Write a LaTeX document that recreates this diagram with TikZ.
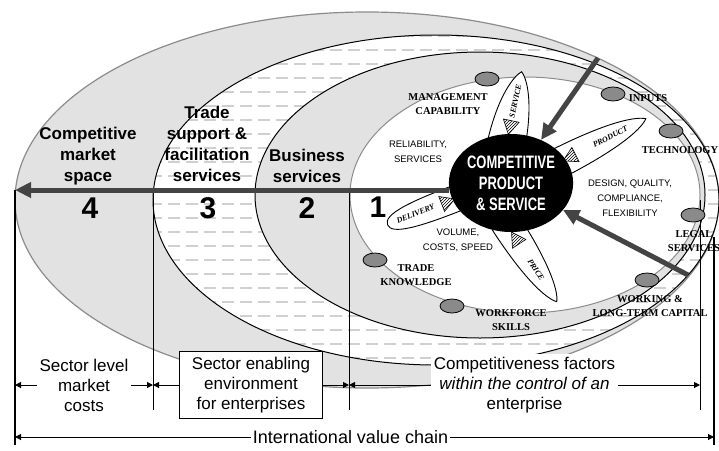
\documentclass[tikz,border=0pt]{standalone}
\usepackage{fontspec}
\setmainfont{Liberation Sans}
\newfontfamily\tagfont{Liberation Serif}
\newfontfamily\narrowfont[FakeStretch=0.72]{Liberation Sans}
\usetikzlibrary{arrows.meta, shapes.geometric, patterns}
\definecolor{ringGray}{HTML}{E2E2E2}
\definecolor{rimGray}{HTML}{8C8C8C}
\definecolor{arrowGray}{HTML}{444444}
\definecolor{dashGray}{HTML}{D0D0D0}
\definecolor{blobGray}{HTML}{8A8A8A}

\begin{document}
\begin{tikzpicture}[x=1pt, y=-1pt,
  region/.style={font=\bfseries\fontsize{17}{21}\selectfont, align=center},
  ringno/.style={font=\bfseries\fontsize{30}{30}\selectfont},
  tag/.style={font=\tagfont\bfseries\fontsize{10.5}{14}\selectfont, align=center, inner sep=1pt},
  factor/.style={font=\fontsize{9.5}{15}\selectfont, align=center, inner sep=1pt},
  blob/.style={ellipse, draw, fill=blobGray, line width=0.8pt, minimum width=24pt, minimum height=14pt, inner sep=0pt},
  petal/.style={draw, fill=white, line width=0.9pt},
  petaltext/.style={font=\tagfont\bfseries\itshape\fontsize{8}{8}\selectfont, transform shape, inner sep=0pt},
  hatch/.style={draw, line width=0.6pt, preaction={fill=white}, pattern=north east lines},
  core/.style={ellipse, fill=black, text=white, minimum width=116pt, minimum height=98pt, inner sep=0pt,
               align=center, font=\narrowfont\bfseries\fontsize{18}{21}\selectfont},
  bigarrow/.style={draw=arrowGray, line width=5pt, -{Triangle[length=16pt, width=15pt]}},
  dashline/.style={draw=dashGray, line width=1.2pt, dash pattern=on 12pt off 6pt},
  rule/.style={line width=0.8pt},
  thickrule/.style={line width=2pt},
  dim/.style={line width=1pt, {Triangle[length=6pt,width=6pt]}-{Triangle[length=6pt,width=6pt]}},
  dimtext/.style={fill=white, font=\fontsize{17}{20}\selectfont, align=center, inner sep=3pt},
]
\fill[white] (0,0) rectangle (719,450);
\useasboundingbox (0,0) rectangle (719,450);

% rings, outside in
\filldraw[fill=ringGray, draw=rimGray, line width=1.2pt] (367,200) ellipse [x radius=352, y radius=188];
\fill[white] (436,200) ellipse [x radius=283, y radius=165];
\begin{scope}
  \clip (436,200) ellipse [x radius=283, y radius=165];
  \foreach \yy in {36,50,...,372}
    \draw[dashline] (150,\yy) -- (725,\yy);
\end{scope}
\draw[line width=1pt] (436,200) ellipse [x radius=283, y radius=165];
\filldraw[fill=ringGray, line width=1pt] (480,195) ellipse [x radius=225, y radius=143];
\filldraw[fill=white, draw=rimGray, line width=1pt] (525,195) ellipse [x radius=175, y radius=118];

% scale rules
\draw[thickrule] (15,190) -- (15,445);
\draw[rule] (153,193) -- (153,410);
\draw[rule] (349,193) -- (349,410);
\draw[rule] (700,200) -- (700,410);
\draw[thickrule] (714,237) -- (714,445);

\node[region] (mkt) at (88,156) {Competitive\\market\\space};
\node[region] (trd) at (207,144) {Trade\\support \&\\facilitation\\services};
\node[region] (biz) at (307,166) {Business\\services};
\node[ringno] (n4) at (90,208) {4};
\node[ringno] (n3) at (208,208) {3};
\node[ringno] (n2) at (307,208) {2};
\node[ringno] (n1) at (378,207) {1};

% enterprise factors on the inner ring
\node[blob] (bMgmt) at (487,79) {};
\node[blob] (bInput) at (613,94) {};
\node[blob] (bTech) at (671,131) {};
\node[blob] (bLegal) at (693,215) {};
\node[blob] (bCap) at (647,280) {};
\node[blob] (bWork) at (452,306) {};
\node[blob] (bTrade) at (375,260) {};
\node[tag] (tMgmt) at (448,104) {MANAGEMENT\\CAPABILITY};
\node[tag] (tInput) at (648,98) {INPUTS};
\node[tag] (tTech) at (680,150) {TECHNOLOGY};
\node[tag] (tLegal) at (694,241) {LEGAL\\SERVICES};
\node[tag] (tCap) at (650,306) {WORKING \&\\LONG-TERM CAPITAL};
\node[tag] (tWork) at (511,320) {WORKFORCE\\SKILLS};
\node[tag] (tTrade) at (416,275) {TRADE\\KNOWLEDGE};
\node[factor] (fRel) at (418,152) {RELIABILITY,\\SERVICES};
\node[factor] (fDes) at (630,198) {DESIGN, QUALITY,\\COMPLIANCE,\\FLEXIBILITY};
\node[factor] (fVol) at (458,240) {VOLUME,\\COSTS, SPEED};

% petals
\begin{scope}[shift={(505,150)}, rotate=78]
  \filldraw[petal] (0,-19) .. controls (45,-19) and (72,-9) .. (80,0) .. controls (72,9) and (45,19) .. (0,19) -- cycle;
  \node[petaltext] (pServ) at (50,0) {SERVICE};
  \filldraw[hatch] (16,0) -- (30,-8) -- (30,8) -- cycle;
\end{scope}
\begin{scope}[shift={(555,165)}, rotate=27]
  \filldraw[petal] (0,-15) .. controls (60,-15) and (92,-8) .. (102,0) .. controls (92,8) and (60,15) .. (0,15) -- cycle;
  \node[petaltext] (pProd) at (62,0) {PRODUCT};
  \filldraw[hatch] (9,0) -- (23,-8) -- (23,8) -- cycle;
\end{scope}
\begin{scope}[shift={(505,222)}, rotate=-57]
  \filldraw[petal] (0,-15) .. controls (55,-15) and (86,-8) .. (95,0) .. controls (86,8) and (55,15) .. (0,15) -- cycle;
  \node[petaltext] (pPrice) at (57,0) {PRICE};
  \filldraw[hatch] (12,0) -- (26,-8) -- (26,8) -- cycle;
\end{scope}
\begin{scope}[shift={(465,195)}, rotate=201]
  \filldraw[petal] (0,-13) .. controls (55,-14) and (83,-11) .. (83,0) .. controls (83,11) and (55,14) .. (0,13) -- cycle;
  \node[petaltext, rotate=180] (pDel) at (53,0) {DELIVERY};
  \filldraw[hatch] (11,0) -- (25,-8) -- (25,8) -- cycle;
\end{scope}

\node[core] (core) at (511,183) {COMPETITIVE\\PRODUCT\\\& SERVICE};

% pressure arrows
\coordinate (tipL) at (15,190);
\coordinate (srcA) at (598,58);
\coordinate (srcB) at (688,275);
\draw[bigarrow] ([yshift=-7pt]core.west) -- (tipL);
\draw[bigarrow] (srcA) -- (core);
\draw[bigarrow] (srcB) -- (core);

% dimension lines
\coordinate (d0) at (15,385);
\coordinate (d1) at (153,385);
\coordinate (d2) at (349,385);
\coordinate (d3) at (700,385);
\coordinate (e0) at (15,437);
\coordinate (e1) at (714,437);
\draw[dim] (d0) -- node[dimtext] (costs) {Sector level\\market\\costs} (d1);
\draw[dim] (d1) -- node[dimtext, draw, line width=1pt, inner xsep=12pt, inner ysep=6pt] (enab) {Sector enabling\\environment\\for enterprises} (d2);
\draw[dim] (d2) -- node[dimtext] (ctrl) {Competitiveness factors\\\textit{within the control of an}\\enterprise} (d3);
\draw[dim] (e0) -- node[dimtext, pos=0.48, inner sep=2pt, font=\fontsize{18}{20}\selectfont] (ivc) {International value chain} (e1);
\end{tikzpicture}
\end{document}
